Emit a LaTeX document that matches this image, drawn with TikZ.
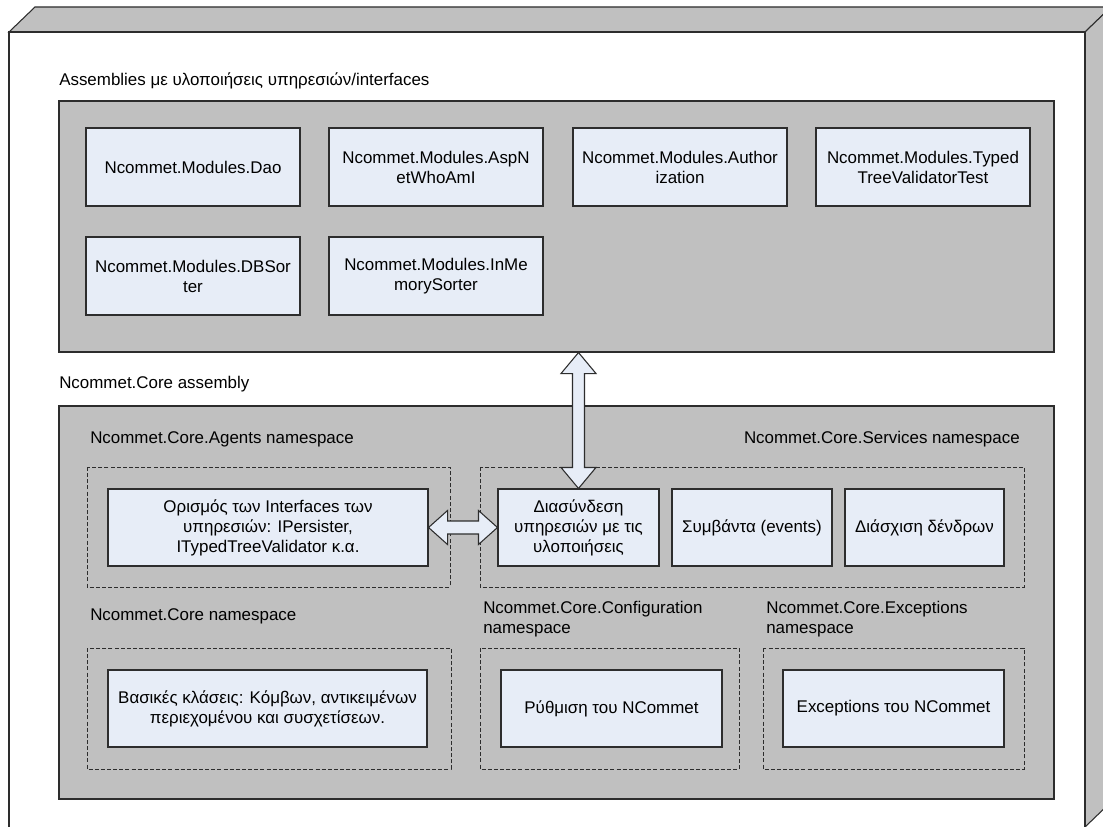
\documentclass[tikz,border=0pt]{standalone}
\usepackage{fontspec}
\setmainfont{Liberation Sans}
\usetikzlibrary{calc}
\definecolor{panelgray}{RGB}{192,192,192}
\definecolor{boxblue}{RGB}{231,237,247}
\definecolor{edge}{RGB}{45,45,45}
\tikzset{
	sized/.style 2 args={minimum width=#1*0.75pt, minimum height=#2*0.75pt},
	panel/.style={draw=edge, fill=panelgray, line width=0.8pt, inner sep=0pt},
	modbox/.style={draw=edge, fill=boxblue, line width=0.8pt, align=center, inner sep=2pt},
	nsframe/.style={draw=edge, dash pattern=on 3pt off 1.6pt, line width=0.6pt},
	caption/.style={anchor=base west, inner sep=0pt},
	arrowfill/.style={draw=edge, fill=boxblue, line width=0.8pt, line join=miter}
}
\begin{document}
\begin{tikzpicture}[x=0.75pt,y=-0.75pt,font=\fontsize{12.7}{15}\selectfont]
					\useasboundingbox (0,0) rectangle (1103,827);
					\clip (0,0) rectangle (1103,827);
					% outer box
					\draw[panel] (9,32) -- (35,7) -- (1111,7) -- (1085,32) -- cycle;
					\draw[panel] (1085,32) -- (1111,7) -- (1111,802) -- (1085,827) -- cycle;
					\draw[draw=edge, fill=white, line width=0.8pt] (9,32) rectangle (1085,830);
					% assemblies
					\node[caption] (asmlbl) at (59,86) {Assemblies με υλοποιήσεις υπηρεσιών/interfaces};
					\node[panel, sized={995}{251}] (asm) at (556.5,226.5) {};
					\node[modbox, sized={214}{78}] (dao) at (193,167) {Ncommet.Modules.Dao};
					\node[modbox, sized={214}{78}] (whoami) at (436,167) {Ncommet.Modules.AspN\\etWhoAmI};
					\node[modbox, sized={214}{78}] (authz) at (680,167) {Ncommet.Modules.Author\\ization};
					\node[modbox, sized={214}{78}] (ttvtest) at (923,167) {Ncommet.Modules.Typed\\TreeValidatorTest};
					\node[modbox, sized={214}{78}] (dbsort) at (193,276) {Ncommet.Modules.DBSor\\ter};
					\node[modbox, sized={214}{78}] (memsort) at (436,276) {Ncommet.Modules.InMe\\morySorter};
					% core assembly
					\node[caption] (corelbl) at (59,388) {Ncommet.Core assembly};
					\node[panel, sized={995}{393}] (core) at (556.5,602.5) {};
					\node[caption] (agentslbl) at (90,443) {Ncommet.Core.Agents namespace};
					\node[caption, anchor=base east] (serviceslbl) at (1020,443) {Ncommet.Core.Services namespace};
					\draw[nsframe] (87,467) rectangle (450,587);
					\draw[nsframe] (480,467) rectangle (1024,587);
					\node[modbox, sized={320}{77}] (ifc) at (268,527.5) {Ορισμός των Interfaces των\\υπηρεσιών: IPersister,\\ITypedTreeValidator κ.α.};
					\node[modbox, sized={161}{77}] (link) at (578.5,527.5) {Διασύνδεση\\υπηρεσιών με τις\\υλοποιήσεις};
					\node[modbox, sized={160}{77}] (events) at (752,527.5) {Συμβάντα (events)};
					\node[modbox, sized={159}{77}] (trav) at (924.5,527.5) {Διάσχιση δένδρων};
					\node[caption] (basenslbl) at (90,620) {Ncommet.Core namespace};
					\node[caption, anchor=west, align=left] (conflbl) at (483,619) {Ncommet.Core.Configuration\\namespace};
					\node[caption, anchor=west, align=left] (exclbl) at (766,619) {Ncommet.Core.Exceptions\\namespace};
					\draw[nsframe] (87,648) rectangle (451,769);
					\draw[nsframe] (480,648) rectangle (739,769);
					\draw[nsframe] (763,648) rectangle (1024,769);
					\node[modbox, sized={319}{77}] (base) at (267.5,708.5) {Βασικές κλάσεις: Κόμβων, αντικειμένων\\περιεχομένου και συσχετίσεων.};
					\node[modbox, sized={221}{77}] (conf) at (611.5,708.5) {Ρύθμιση του NCommet};
					\node[modbox, sized={221}{77}] (exc) at (893.5,708.5) {Exceptions του NCommet};
					% double arrows
					\coordinate (vtip) at (link.north |- asm.south);
					\draw[arrowfill] (vtip) -- ++(17.5,21) -- ++(-11.5,0) -- ($(link.north)+(6,-21)$) -- ++(11.5,0) -- (link.north)
						-- ++(-17.5,-21) -- ++(11.5,0) -- ($(vtip)+(-6,21)$) -- ++(-11.5,0) -- cycle;
					\draw[arrowfill] (ifc.east) -- ++(19,-17) -- ++(0,10.5) -- ($(link.west)+(-19,-6.5)$) -- ++(0,-10.5) -- (link.west)
						-- ++(-19,17) -- ++(0,-10.5) -- ($(ifc.east)+(19,6.5)$) -- ++(0,10.5) -- cycle;
				\end{tikzpicture}
\end{document}
